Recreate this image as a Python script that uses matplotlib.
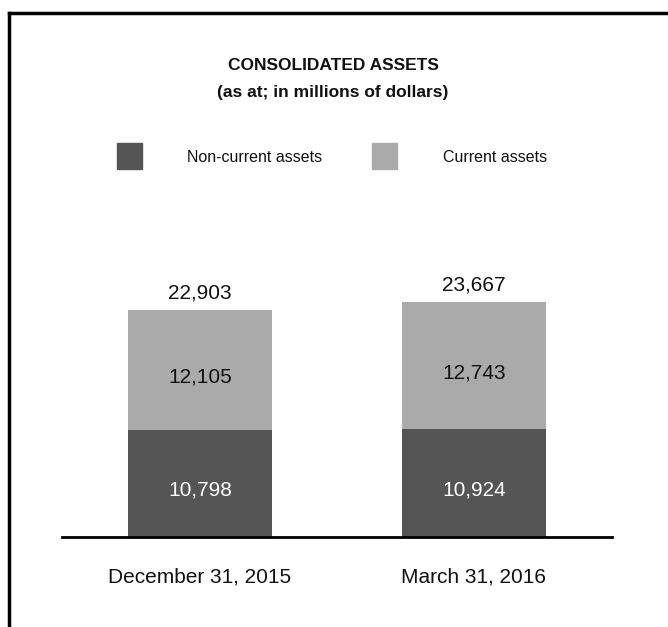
import matplotlib.pyplot as plt
from matplotlib.lines import Line2D
from matplotlib.patches import Rectangle

plt.rcParams['font.family'] = ['Liberation Sans', 'DejaVu Sans']

# données (en millions de dollars)
categories = ["December 31, 2015", "March 31, 2016"]
non_current = [10798, 10924]
current = [12105, 12743]
totals = [22903, 23667]
series_names = ["Non-current assets", "Current assets"]

dark = "#555555"
light = "#aaaaaa"

W, H = 668, 627
fig = plt.figure(figsize=(W / 100, H / 100), dpi=100)

# axes : ligne de base à y=537 px, de x=62 à 612 px
base_px = 537
top_px = 200
ax = fig.add_axes([62 / W, (H - base_px) / H, 550 / W, (base_px - top_px) / H])
px_per_unit = 227 / 22903
ax.set_ylim(0, (base_px - top_px) / px_per_unit)
ax.set_xlim(-0.504, 1.504)

x = list(range(len(categories)))
bw = 144 / 274
ax.bar(x, non_current, width=bw, color=dark, label=series_names[0])
ax.bar(x, current, width=bw, bottom=non_current, color=light, label=series_names[1])

for i in x:
    ax.annotate(f"{non_current[i]:,}", (i, non_current[i] / 2), xytext=(0, -5),
                textcoords='offset points', ha='center', va='center',
                color='white', fontsize=15)
    ax.annotate(f"{current[i]:,}", (i, non_current[i] + current[i] / 2), xytext=(0, -5),
                textcoords='offset points', ha='center', va='center',
                color='#111111', fontsize=15)
    ax.annotate(f"{totals[i]:,}", (i, totals[i]), xytext=(0, 5.5), textcoords='offset points',
                ha='center', va='bottom', color='#111111', fontsize=15)

for s in ['top', 'right', 'left']:
    ax.spines[s].set_visible(False)
ax.spines['bottom'].set_linewidth(2)
ax.spines['bottom'].set_color('black')
ax.set_yticks([])
ax.set_xticks(x)
ax.set_xticklabels(categories, fontsize=15, color='#111111')
ax.tick_params(axis='x', length=0, pad=22)

# titre
fig.text(333 / W, 1 - 66 / H, "CONSOLIDATED ASSETS", ha='center', va='center',
         fontsize=12.5, fontweight='bold', color='#111111')
fig.text(333 / W, 1 - 92 / H, "(as at; in millions of dollars)", ha='center', va='center',
         fontsize=12.5, fontweight='bold', color='#111111')

# légende manuelle
for (sx, tx), name, col in zip([(117, 187), (372, 443)], series_names, [dark, light]):
    fig.patches.append(Rectangle((sx / W, 1 - 169 / H), 25 / W, 26 / H,
                                 transform=fig.transFigure, color=col))
    fig.text(tx / W, 1 - 157 / H, name, ha='left', va='center', fontsize=11.5, color='#111111')

# cadre (haut et gauche)
fig.add_artist(Line2D([9 / W, 1], [1 - 13 / H, 1 - 13 / H], color='black', lw=2.5,
                      transform=fig.transFigure))
fig.add_artist(Line2D([9 / W, 9 / W], [0, 1 - 13 / H], color='black', lw=2.5,
                      transform=fig.transFigure))

fig.savefig("out.png", dpi=100)
